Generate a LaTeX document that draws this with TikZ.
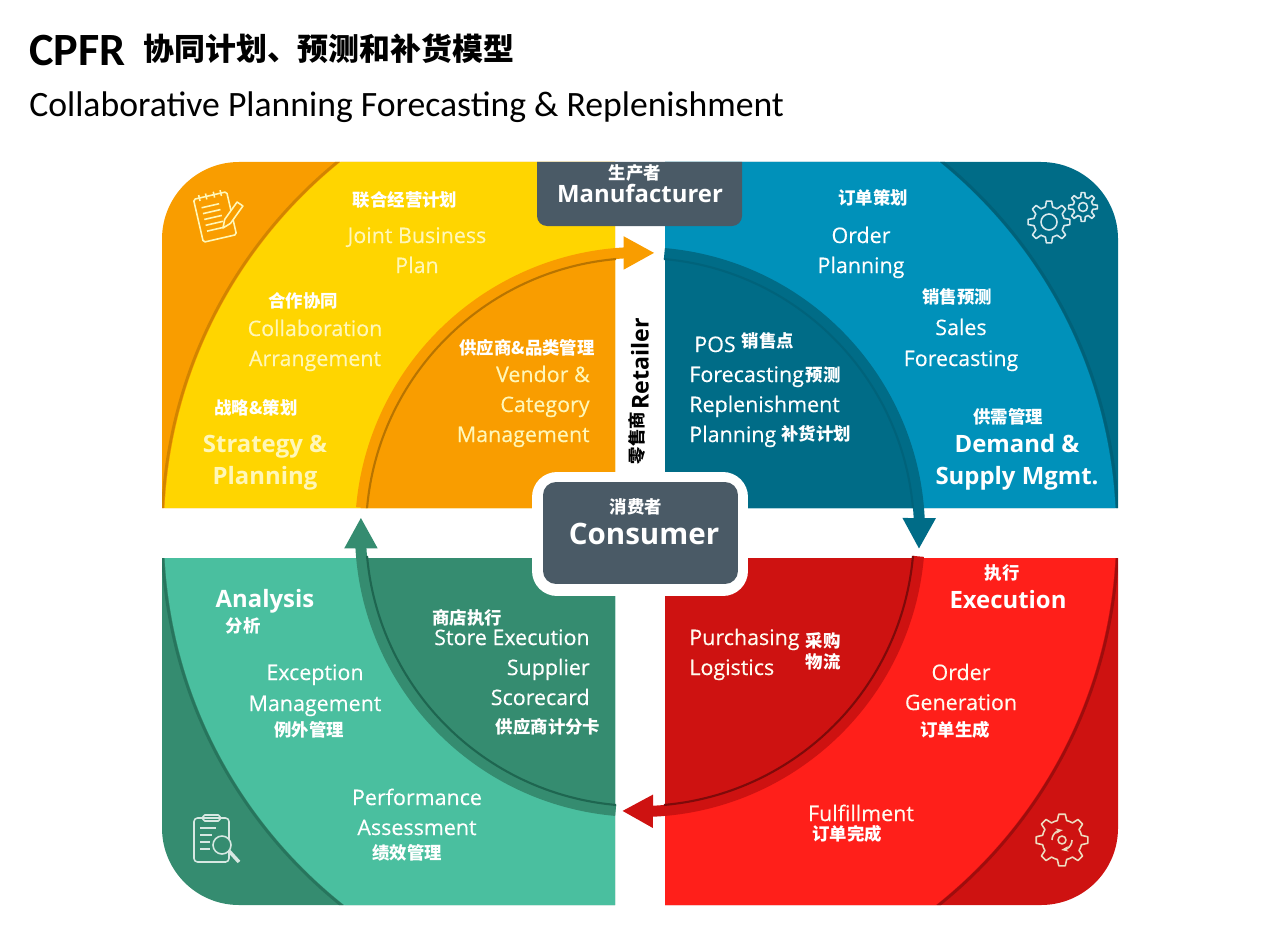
\documentclass[tikz,border=0pt]{standalone}
\usepackage{fontspec}
\usetikzlibrary{arrows.meta,bending}
\setmainfont{Open Sans}
\newfontfamily\semib[FakeBold=0.3]{Open Sans}
\newfontfamily\titlefont{Carlito}
\newfontfamily\cjk{Noto Sans CJK SC}
\definecolor{ylw}{HTML}{FFD500}
\definecolor{org}{HTML}{F99D00}
\definecolor{orgsh}{HTML}{B87400}
\definecolor{blu}{HTML}{0091BA}
\definecolor{blud}{HTML}{006C87}
\definecolor{blush}{HTML}{005A70}
\definecolor{red1}{HTML}{FF1F1A}
\definecolor{red2}{HTML}{CE1211}
\definecolor{redsh}{HTML}{7E0A0A}
\definecolor{grn}{HTML}{4ABF9F}
\definecolor{grnd}{HTML}{358C70}
\definecolor{grnsh}{HTML}{1E6650}
\definecolor{slate}{HTML}{4A5A66}
\definecolor{paley}{HTML}{FFF7B8}
\definecolor{palew}{HTML}{FFFBEF}
% one quadrant: clip path, light, dark, shadow
\newcommand{\quadrant}[4]{%
  \begin{scope}
    \clip #1;
    \fill[#3] (0,0) rectangle (1280,929);
    \draw[#4!60!#3,line width=1.6pt] (640,532) circle (478);
    \fill[#2] (640,532) circle (476);
    \fill[#3] (640,532) circle (280);
  \end{scope}}
% gear outline: x, y, radius, tooth depth, teeth angle
\newcommand{\gearicon}[6]{%
  \begin{scope}[shift={(#1,#2)}]
    \draw[#6,line width=0.9pt,line join=round] (-#5*0.3:#3)
      \foreach \a in {0,#5,...,359}{ -- (\a-#5*0.3:#3) -- (\a-#5*0.16:#3+#4) -- (\a+#5*0.16:#3+#4) -- (\a+#5*0.3:#3)
      arc[start angle=\a+#5*0.3,end angle=\a+#5*0.7,radius=#3] } -- cycle;
  \end{scope}}
\begin{document}
\begin{tikzpicture}[x=0.02cm,y=-0.02cm,
    lab/.style={font=\semib\fontsize{12.2}{14}\selectfont,inner sep=0pt,text height=9pt,text depth=1pt,text=#1},
    lab/.default=white,
    labb/.style={font=\fontsize{13.6}{16}\selectfont\bfseries,inner sep=0pt,text height=10.5pt,text depth=1.5pt,text=#1},
    labb/.default=white,
    cn/.style={font=\cjk\fontsize{9.9}{12}\selectfont\bfseries,inner sep=0pt,text=white},
    box/.style={fill=slate,rounded corners=0.26cm,inner sep=0pt},
    ring/.style={line width=0.22cm,-{Triangle[length=0.62cm,width=0.62cm]}},
    rimline/.style={line width=1.2pt},
    icon/.style={line width=0.9pt,line join=round},
]
\useasboundingbox (0,0) rectangle (1280,929);

% Title
\node[font=\titlefont\fontsize{26.3}{28}\selectfont\bfseries,anchor=west,inner sep=0pt] (cpfr) at (29,51) {CPFR};
\node[font=\cjk\fontsize{17.6}{20}\selectfont\bfseries,anchor=west,inner sep=0pt] (titlecn) at (143,49) {协同计划、预测和补货模型};
\node[font=\titlefont\fontsize{20.3}{22}\selectfont,anchor=west,inner sep=0pt] (titleen) at (29,107) {Collaborative Planning Forecasting \& Replenishment};

% Quadrants
\quadrant{(162,508) -- (162,239) arc[start angle=180,end angle=270,radius=77] -- (615,162) -- (615,508) -- cycle}{ylw}{org}{orgsh}
\quadrant{(665,162) -- (1041,162) arc[start angle=270,end angle=360,radius=77] -- (1118,508) -- (665,508) -- cycle}{blu}{blud}{blush}
\quadrant{(665,558) -- (1118,558) -- (1118,828) arc[start angle=0,end angle=90,radius=77] -- (665,905) -- cycle}{red1}{red2}{redsh}
\quadrant{(162,558) -- (615,558) -- (615,905) -- (239,905) arc[start angle=90,end angle=180,radius=77] -- cycle}{grn}{grnd}{grnsh}

% Ring arrows
\draw[ring,org] (640,532) ++(185:279.5) arc[start angle=185,end angle=273,radius=279.5];
\draw[ring,blud] (640,532) ++(275:279.5) arc[start angle=275,end angle=363.5,radius=279.5];
\draw[ring,red2] (640,532) ++(5:279.5) arc[start angle=5,end angle=93.7,radius=279.5];
\draw[ring,grnd] (640,532) ++(95:279.5) arc[start angle=95,end angle=183,radius=279.5];
\draw[rimline,orgsh] (640,532) ++(185:274) arc[start angle=185,end angle=265,radius=274];
\draw[rimline,blush!50!blud] (640,532) ++(275:274) arc[start angle=275,end angle=355,radius=274];
\draw[rimline,redsh] (640,532) ++(5:274) arc[start angle=5,end angle=85,radius=274];
\draw[rimline,grnsh] (640,532) ++(95:274) arc[start angle=95,end angle=175,radius=274];

% Boxes
\fill[slate] (537,162) -- (742,162) [rounded corners=0.2cm] -- (742,226) -- (537,226) [sharp corners] -- cycle;
\node[fill=white,rounded corners=0.5cm,minimum width=4.32cm,minimum height=2.48cm] (halo) at (640,534) {};
\node[box,minimum width=3.9cm,minimum height=2.04cm] (consumer) at (640.5,533) {};
\node[cn] (cnmanu) at (635,173) {生产者};
\node[labb] (manu) at (640,195) {Manufacturer};
\node[cn] (cncons) at (636,507) {消费者};
\node[labb,font=\fontsize{16.8}{20}\selectfont\bfseries] (cons) at (644,537) {Consumer};
\node[font=\fontsize{13.2}{16}\selectfont\bfseries,rotate=90,inner sep=0pt] (retail) at (640,364) {Retailer};
\node[font=\cjk\fontsize{9.9}{12}\selectfont\bfseries,rotate=90,inner sep=0pt] (cnretail) at (637,438) {零售商};

% Yellow quadrant
\node[cn] (cnjoint) at (405,200) {联合经营计划};
\node[lab=paley] (joint) at (417,236) {Joint Business};
\node[lab=paley] (plan) at (417,266) {Plan};
\node[cn] (cncollab) at (303,301) {合作协同};
\node[lab=paley] (collab) at (315,329) {Collaboration};
\node[lab=paley] (arrange) at (315,359) {Arrangement};
\node[cn] (cnstrat) at (256,408) {战略\&策划};
\node[labb=paley] (strat) at (265,445) {Strategy \&};
\node[labb=paley] (stratb) at (265,477) {Planning};
\node[cn] (cnvendor) at (527,348) {供应商\&品类管理};
\node[lab=paley,anchor=east] (vendor) at (590,375) {Vendor \&};
\node[lab=paley,anchor=east] (categ) at (590,405) {Category};
\node[lab=paley,anchor=east] (mgmt) at (590,435) {Management};

% Blue quadrant
\node[cn] (cnorder) at (873,198) {订单策划};
\node[lab] (order) at (861,236) {Order};
\node[lab] (orderb) at (861,266) {Planning};
\node[cn] (cnsales) at (957,297) {销售预测};
\node[lab] (sales) at (961,328) {Sales};
\node[lab] (salesb) at (961,359) {Forecasting};
\node[cn] (cndemand) at (1008,417) {供需管理};
\node[labb] (demand) at (1017,445) {Demand \&};
\node[labb] (demandb) at (1017,477) {Supply Mgmt.};
\node[lab,anchor=west] (pos) at (694,345) {POS};
\node[cn] (cnpos) at (768,341) {销售点};
\node[lab,anchor=west] (fore) at (689,375) {Forecasting};
\node[cn] (cnfore) at (823,375) {预测};
\node[lab,anchor=west] (reple) at (689,405) {Replenishment};
\node[lab,anchor=west] (plann) at (689,435) {Planning};
\node[cn] (cnplann) at (816,434) {补货计划};

% Red quadrant
\node[cn] (cnexec) at (1002,573) {执行};
\node[labb] (exec) at (1008,601) {Execution};
\node[lab=palew] (ogen) at (961,673) {Order};
\node[lab=palew] (ogenb) at (961,703) {Generation};
\node[cn] (cnogen) at (955,730) {订单生成};
\node[lab=palew,anchor=west] (purch) at (689,638) {Purchasing};
\node[lab=palew,anchor=west] (logis) at (689,668) {Logistics};
\node[cn] (cnpurch) at (823,641) {采购};
\node[cn] (cnlogis) at (823,662) {物流};
\node[lab=palew] (fulf) at (861,814) {Fulfillment};
\node[cn] (cnfulf) at (847,834) {订单完成};

% Green quadrant
\node[labb] (anal) at (265,600) {Analysis};
\node[cn] (cnanal) at (243,626) {分析};
\node[lab] (excep) at (315,673) {Exception};
\node[lab] (excepb) at (315,704) {Management};
\node[cn] (cnexcep) at (309,730) {例外管理};
\node[cn] (cnstore) at (467,618) {商店执行};
\node[lab,anchor=east] (store) at (590,638) {Store Execution};
\node[lab,anchor=east] (supp) at (590,668) {Supplier};
\node[lab,anchor=east] (score) at (590,698) {Scorecard};
\node[cn] (cnscore) at (548,727) {供应商计分卡};
\node[lab] (perf) at (417,798) {Performance};
\node[lab] (perfb) at (417,828) {Assessment};
\node[cn] (cnperf) at (407,853) {绩效管理};

% Icons
\begin{scope}[shift={(215,217)},rotate=13,icon,paley]
  \draw[rounded corners=1pt] (-17,-22) rectangle (17,22);
  \draw (-11,-25) -- (-11,-19) (-4,-25) -- (-4,-19) (4,-25) -- (4,-19) (11,-25) -- (11,-19);
  \foreach \ty in {-12,-6,0,6,12} \draw (-11,\ty) -- (7,\ty);
\end{scope}
\draw[icon,paley,fill=org] (223,228) -- (224.7,219.4) -- (237.1,202) -- (242.9,206) -- (230.5,223.4) -- cycle;
\gearicon{1049}{222}{15.5}{5.5}{45}{white!85!blud}
\draw[icon,white!85!blud] (1049,222) circle (8);
\gearicon{1083}{207}{10}{4.5}{45}{white!85!blud}
\draw[icon,white!85!blud] (1083,207) circle (4.5);
\begin{scope}[icon,white!80!grnd]
  \draw[rounded corners=2pt] (194,818) rectangle (229,862);
  \draw[rounded corners=1pt] (203,815) rectangle (220,821);
  \draw (200,828) -- (216,828) (200,835) -- (212,835) (200,842) -- (210,842) (200,849) -- (210,849);
  \draw[fill=grnd] (222,845) circle (9);
  \draw[line width=2pt] (229,851) -- (239,862);
\end{scope}
\gearicon{1062}{840}{20}{6}{45}{white!75!orgsh}
\draw[icon,white!75!orgsh] (1062,840) circle (4);
\draw[icon,white!75!orgsh,-{Stealth[length=1.4mm]}] (1052,840) arc[start angle=180,end angle=275,radius=10];
\draw[icon,white!75!orgsh,-{Stealth[length=1.4mm]}] (1072,840) arc[start angle=0,end angle=95,radius=10];
\end{tikzpicture}
\end{document}
